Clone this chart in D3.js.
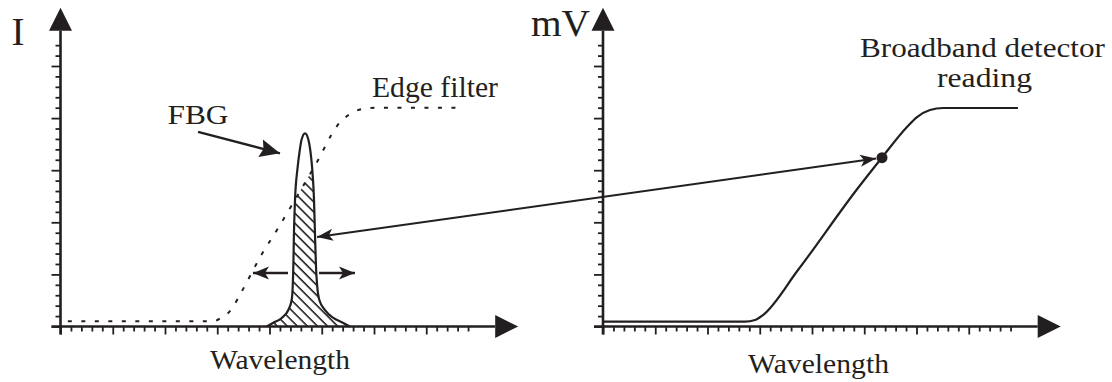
<!DOCTYPE html>
<html>
<head>
<meta charset="utf-8">
<script src="https://cdn.jsdelivr.net/npm/d3@7"></script>
<style>
  html, body { margin: 0; padding: 0; background: #fff; }
  svg { display: block; }
  text { font-family: "Liberation Serif", "Times New Roman", Times, serif; fill: #231f20; }
</style>
</head>
<body>
<svg id="chart" width="1112" height="382"></svg>
<script>
// ---- data (wavelength and amplitude in tick units) ----
const xTickValues = d3.range(0, 40);   // 39 wavelength divisions
const yTickValues = d3.range(0, 28);   // 27 amplitude divisions
const majorEvery = 5;

// Edge filter transmission (dashed)
const edgeFilter = [
  [0.7, 0.5], [14.6, 0.5], [15.4, 0.85], [16.4, 1.7], [17.2, 3.1],
  [19.3, 7.0], [20.8, 9.4], [22.4, 12.1], [24.5, 15.7], [26.5, 19.3],
  [27.7, 20.4], [29.1, 20.9], [30.5, 21.0], [38.5, 21.0]
];

// FBG reflection peak
const fbgPeak = [
  [19.73, 0], [20.33, 0.34], [21.17, 0.82], [21.8, 1.58], [22.12, 2.54],
  [22.22, 3.82], [22.28, 5.74], [22.34, 8.97], [22.44, 12.14], [22.7, 15.34],
  [22.9, 16.94], [23.06, 17.9], [23.4, 18.54], [23.73, 17.9], [23.9, 16.94],
  [24.07, 15.34], [24.26, 12.14], [24.35, 8.97], [24.45, 5.74], [24.57, 3.82],
  [24.77, 2.54], [25.31, 1.58], [26.11, 0.82], [27.06, 0.34], [27.7, 0]
];

// Broadband detector output (mV) versus FBG wavelength
const detectorReading = [
  [0, 0.46], [13.59, 0.46], [14.55, 0.62], [15.31, 1.1], [18.66, 5.42],
  [24.4, 13.29], [26.51, 15.98], [29.09, 19.15], [30.05, 20.1],
  [31.29, 20.78], [32.54, 20.97], [39.71, 20.97]
];

// Annotation anchors
const readingPoint = [26.7, 16.2];          // on the detector curve
const hatchTarget = [24.55, 8.59];          // inside the filtered FBG area
const fbgPointer = [[13.16, 18.67], [21.0, 16.62]];
const shiftLeft = [[21.77, 5.13], [18.42, 5.13]];
const shiftRight = [[24.74, 5.13], [28.18, 5.13]];

const axisEnds = { x: 43.8, y: 30.6 };

// ---- layout ----
const ink = "#231f20";
const svg = d3.select("#chart");
const tickStepX = 10.45, tickStepY = 10.42;
const baseY = 326.5;

const y = d3.scaleLinear().domain([0, 27]).range([baseY, baseY - 27 * tickStepY]);
const xLeft = d3.scaleLinear().domain([0, 39]).range([60.5, 60.5 + 39 * tickStepX]);
const xRight = d3.scaleLinear().domain([0, 39]).range([603, 603 + 39 * tickStepX]);

// arrowhead polygon with an optional notched back
function headPath(tip, from, len, hw, notch) {
  const dx = tip[0] - from[0], dy = tip[1] - from[1];
  const L = Math.hypot(dx, dy);
  const ux = dx / L, uy = dy / L, nx = -uy, ny = ux;
  const bx = tip[0] - ux * len, by = tip[1] - uy * len;
  const mx = tip[0] - ux * (len - notch), my = tip[1] - uy * (len - notch);
  return `M${tip[0]},${tip[1]}L${bx + nx * hw},${by + ny * hw}L${mx},${my}L${bx - nx * hw},${by - ny * hw}Z`;
}

function arrow(g, from, to, opts) {
  const { len, hw, notch, width, both } = opts;
  g.append("line")
    .attr("x1", from[0]).attr("y1", from[1]).attr("x2", to[0]).attr("y2", to[1])
    .attr("stroke", ink).attr("stroke-width", width);
  g.append("path").attr("d", headPath(to, from, len, hw, notch)).attr("fill", ink);
  if (both) g.append("path").attr("d", headPath(from, to, len, hw, notch)).attr("fill", ink);
}

function drawAxes(x) {
  const g = svg.append("g");
  const ya = g.append("g")
    .attr("transform", `translate(${x(0)},0)`)
    .call(d3.axisLeft(y).tickValues(yTickValues).tickSize(5).tickFormat(""));
  ya.select(".domain").remove();
  ya.selectAll(".tick line")
    .attr("x2", d => d % majorEvery === 0 ? -9 : -5)
    .attr("stroke", ink).attr("stroke-width", 1.8);

  const xa = g.append("g")
    .attr("transform", `translate(0,${y(0)})`)
    .call(d3.axisBottom(x).tickValues(xTickValues).tickSize(5).tickFormat(""));
  xa.select(".domain").remove();
  xa.selectAll(".tick line")
    .attr("y2", d => d % majorEvery === 0 ? 8 : 5)
    .attr("stroke", ink).attr("stroke-width", 1.8);

  // axis lines with solid triangular heads
  const headLen = 23, headHw = 11.5;
  const ox = x(0), oy = y(0);
  const yTip = y(axisEnds.y), xTip = x(axisEnds.x);
  g.append("line").attr("x1", ox).attr("y1", oy + 8).attr("x2", ox).attr("y2", yTip + headLen)
    .attr("stroke", ink).attr("stroke-width", 2.6);
  g.append("path").attr("d", headPath([ox, yTip], [ox, oy], headLen, headHw, 0)).attr("fill", ink);
  g.append("line").attr("x1", ox - 9).attr("y1", oy).attr("x2", xTip - headLen).attr("y2", oy)
    .attr("stroke", ink).attr("stroke-width", 2.6);
  g.append("path").attr("d", headPath([xTip, oy], [ox, oy], headLen, headHw, 0)).attr("fill", ink);
}

drawAxes(xLeft);
drawAxes(xRight);

// ---- left panel: filtered FBG spectrum ----
const defs = svg.append("defs");
defs.append("pattern")
  .attr("id", "hatch").attr("patternUnits", "userSpaceOnUse")
  .attr("width", 7.1).attr("height", 7.1)
  .attr("patternTransform", "rotate(-45)")
  .append("line").attr("x1", 1).attr("y1", 0).attr("x2", 1).attr("y2", 7.1)
  .attr("stroke", ink).attr("stroke-width", 1.6);

const areaLeft = d3.area().x(d => xLeft(d[0])).y0(y(0)).y1(d => y(d[1])).curve(d3.curveMonotoneX);
defs.append("clipPath").attr("id", "fbgClip")
  .append("path").attr("d", areaLeft(fbgPeak));
defs.append("clipPath").attr("id", "edgeClip")
  .append("path").attr("d", areaLeft(edgeFilter));

// hatched region: light passing both the FBG and the edge filter
svg.append("g").attr("clip-path", "url(#fbgClip)")
  .append("rect")
  .attr("clip-path", "url(#edgeClip)")
  .attr("x", xLeft(15)).attr("y", y(25))
  .attr("width", xLeft(32) - xLeft(15)).attr("height", y(0) - y(25))
  .attr("fill", "url(#hatch)");

const lineLeft = d3.line().x(d => xLeft(d[0])).y(d => y(d[1])).curve(d3.curveMonotoneX);
svg.append("path").attr("d", lineLeft(fbgPeak))
  .attr("fill", "none").attr("stroke", ink).attr("stroke-width", 2.2);
svg.append("path").attr("d", lineLeft(edgeFilter))
  .attr("fill", "none").attr("stroke", ink).attr("stroke-width", 2)
  .attr("stroke-dasharray", "4,9.5");

// ---- right panel: detector reading ----
const lineRight = d3.line().x(d => xRight(d[0])).y(d => y(d[1])).curve(d3.curveMonotoneX);
svg.append("path").attr("d", lineRight(detectorReading))
  .attr("fill", "none").attr("stroke", ink).attr("stroke-width", 2.2);

const dotR = 5.5;
const dot = [xRight(readingPoint[0]), y(readingPoint[1])];
svg.append("circle").attr("cx", dot[0]).attr("cy", dot[1]).attr("r", dotR).attr("fill", ink);

// ---- annotations ----
const ann = svg.append("g");
const leftTip = [xLeft(hatchTarget[0]), y(hatchTarget[1])];
{
  const dx = dot[0] - leftTip[0], dy = dot[1] - leftTip[1], L = Math.hypot(dx, dy);
  const rightTip = [dot[0] - dx / L * (dotR + 0.5), dot[1] - dy / L * (dotR + 0.5)];
  arrow(ann, leftTip, rightTip, { len: 16, hw: 6, notch: 4, width: 2, both: true });
}
arrow(ann, [xLeft(fbgPointer[0][0]), y(fbgPointer[0][1])], [xLeft(fbgPointer[1][0]), y(fbgPointer[1][1])],
  { len: 20, hw: 9, notch: 3, width: 2.4 });
arrow(ann, [xLeft(shiftLeft[0][0]), y(shiftLeft[0][1])], [xLeft(shiftLeft[1][0]), y(shiftLeft[1][1])],
  { len: 16, hw: 6.5, notch: 4, width: 2.4 });
arrow(ann, [xLeft(shiftRight[0][0]), y(shiftRight[0][1])], [xLeft(shiftRight[1][0]), y(shiftRight[1][1])],
  { len: 16, hw: 6.5, notch: 4, width: 2.4 });

// ---- text ----
function label(txt, x0, baseline, size, width) {
  const t = svg.append("text").attr("x", x0).attr("y", baseline)
    .attr("font-size", size).text(txt);
  if (width) t.attr("textLength", width).attr("lengthAdjust", "spacingAndGlyphs");
  return t;
}
label("I", 11.5, 45, 39);
label("mV", 531, 35.5, 37, 59);
label("FBG", 167.5, 124, 28, 61);
label("Edge filter", 372, 97, 29, 126);
label("Wavelength", 210, 369, 28, 140);
label("Wavelength", 748, 373, 28, 141);
label("Broadband detector", 860, 57, 27, 245);
label("reading", 937, 87, 27, 95);
</script>
</body>
</html>
